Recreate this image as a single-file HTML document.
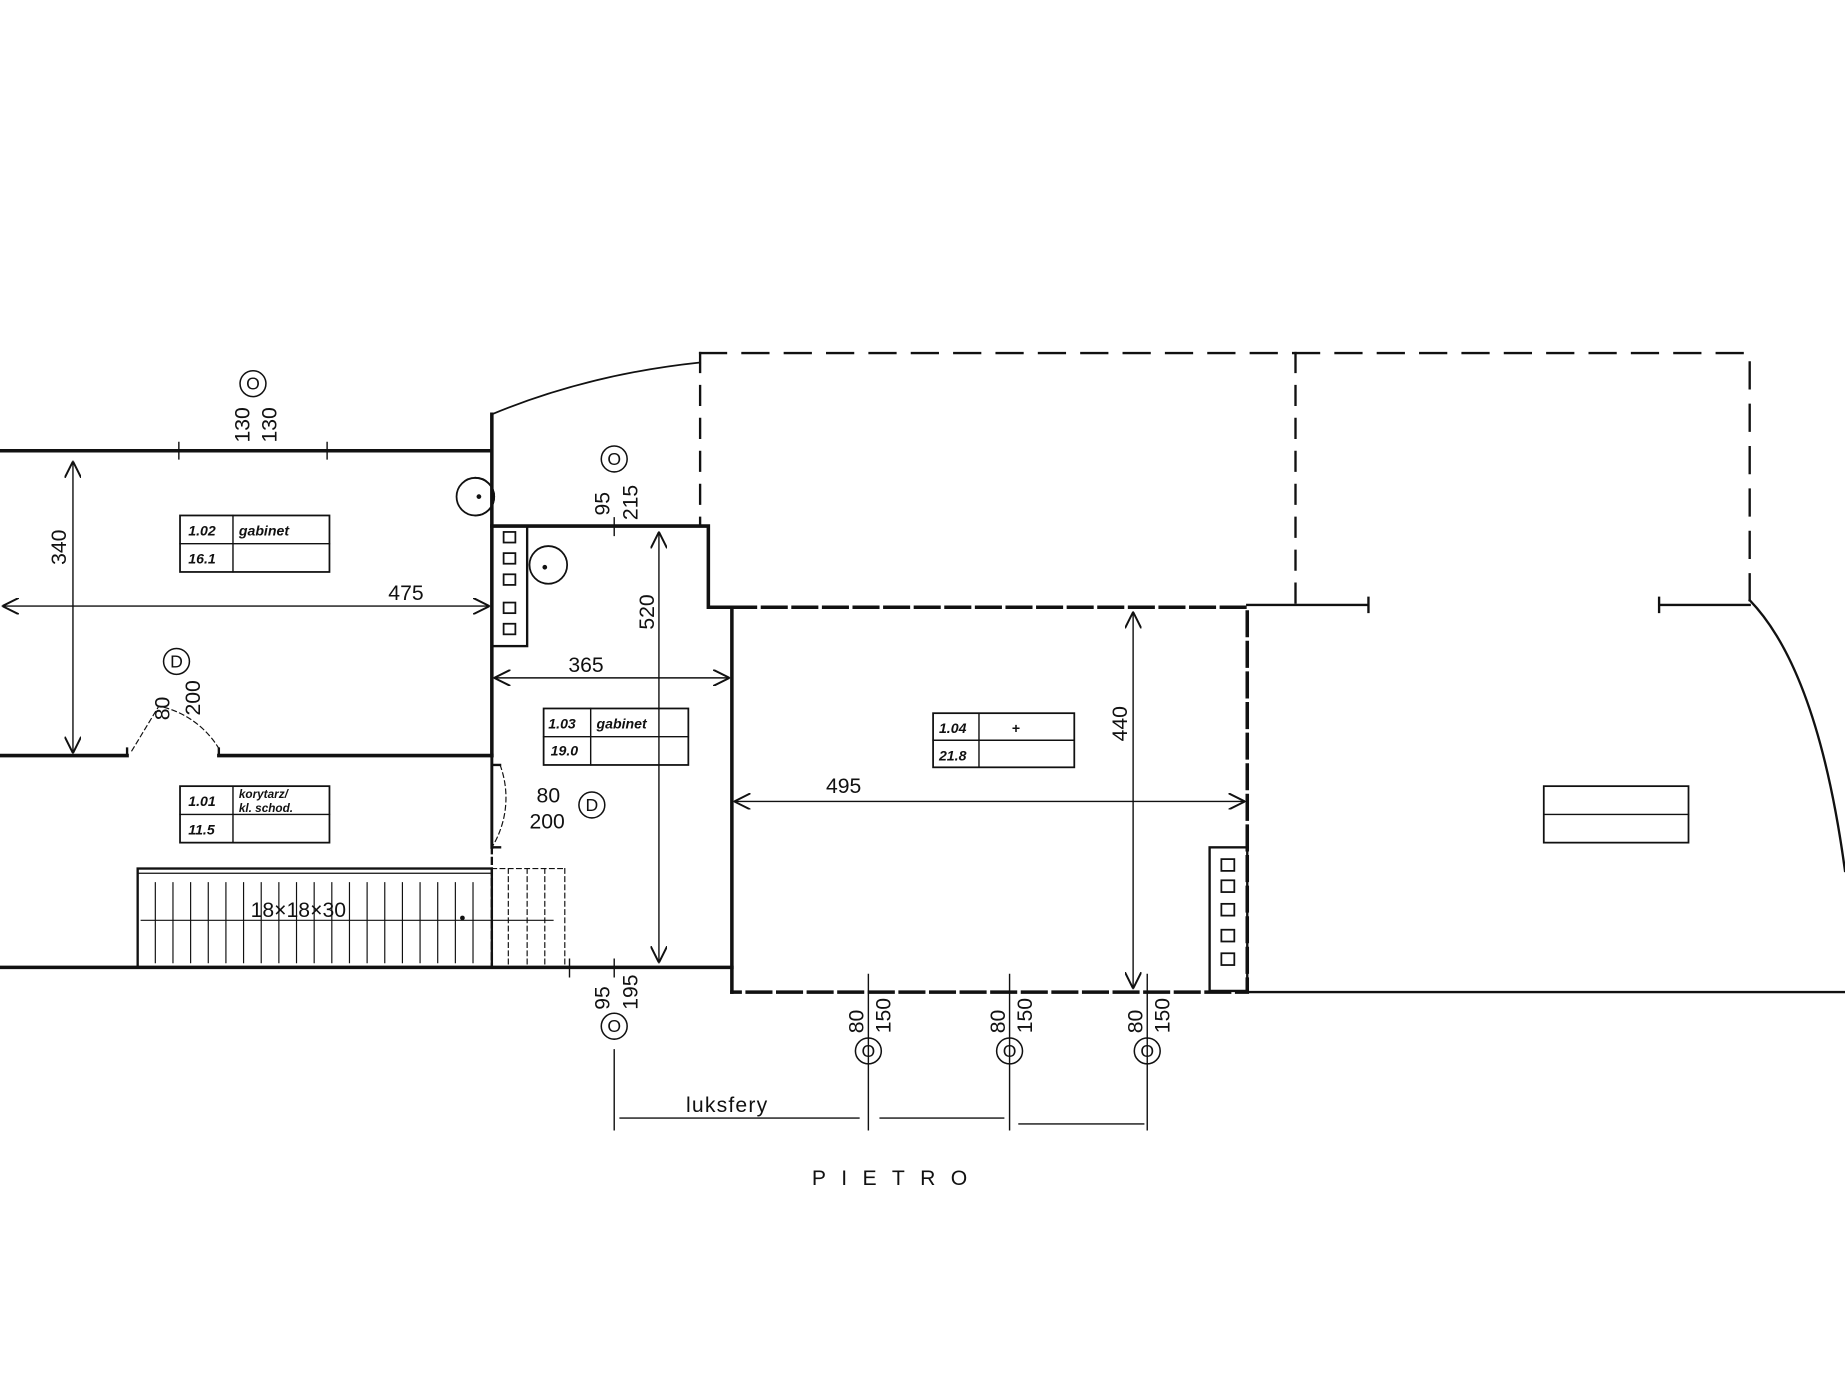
<!DOCTYPE html>
<html><head><meta charset="utf-8"><style>
html,body{margin:0;padding:0;background:#fff;}
svg{display:block;}
text{font-family:"Liberation Sans",sans-serif;fill:#111;}
</style></head><body>
<svg width="1845" height="1384" viewBox="0 0 1568 1176" preserveAspectRatio="none" xmlns="http://www.w3.org/2000/svg">
<defs>
<marker id="a" viewBox="0 0 10 10" refX="10" refY="5" markerWidth="14" markerHeight="14" orient="auto-start-reverse" markerUnits="userSpaceOnUse"><path d="M0,0 L10,5 L0,10" fill="none" stroke="#111" stroke-width="1.2"/></marker>
</defs>
<g stroke="#111" fill="none" stroke-linecap="square">
<path d="M0,383 H418 M418,352 V642" stroke-width="3"/>
<path d="M418,352 Q500,318 595,308" stroke-width="1.5"/>
<path d="M0,642 H108 M186,642 H418" stroke-width="3"/>
<path d="M108,636 V642 M186,636 V642" stroke-width="2"/>
<path d="M0,822 H622" stroke-width="3"/>
<path d="M418,447 H602 V516 H622 V843" stroke-width="3"/>
<path d="M418,642 V720" stroke-width="2.5"/>
<path d="M418,650 L425,650 M418,720 L425,720" stroke-width="2"/>
<path d="M418,720 V822" stroke-width="2" stroke-dasharray="5,4"/>
<path d="M622,516 H1060 V843 H622" stroke-width="3" stroke-dasharray="20,6"/>
<path d="M1060,843 H1568 M1060,514 H1163 M1163,508 V520 M1410,514 H1487 M1410,508 V520" stroke-width="2"/>
<path d="M1487,510 Q1545,570 1568,740" stroke-width="2"/>
<path d="M595,300 H1487 V510" stroke-width="2" stroke-dasharray="22,14"/>
<path d="M595,300 V447 M1101,300 V513" stroke-width="2" stroke-dasharray="16,12"/>
<rect x="117" y="738" width="301" height="84" stroke-width="2"/>
<path d="M117,742 H418" stroke-width="1"/>
<g stroke-width="1">
<path d="M132,750V818 M147,750V818 M162,750V818 M177,750V818 M192,750V818 M207,750V818 M222,750V818 M237,750V818 M252,750V818 M267,750V818 M282,750V818 M297,750V818 M312,750V818 M327,750V818 M342,750V818 M357,750V818 M372,750V818 M387,750V818 M402,750V818"/>
</g>
<path d="M418,738 H480 M432,738 V822 M448,738 V822 M463,738 V822 M480,738 V822" stroke-width="1" stroke-dasharray="4,3"/>
<path d="M120,782 H470" stroke-width="1"/>
<rect x="418" y="447" width="30" height="102" stroke-width="2"/>
<rect x="428" y="452" width="10" height="9" stroke-width="1.5"/><rect x="428" y="470" width="10" height="9" stroke-width="1.5"/>
<rect x="428" y="488" width="10" height="9" stroke-width="1.5"/><rect x="428" y="512" width="10" height="9" stroke-width="1.5"/><rect x="428" y="530" width="10" height="9" stroke-width="1.5"/>
<rect x="1028" y="720" width="32" height="122" stroke-width="2"/>
<rect x="1038" y="730" width="11" height="10" stroke-width="1.5"/><rect x="1038" y="748" width="11" height="10" stroke-width="1.5"/>
<rect x="1038" y="768" width="11" height="10" stroke-width="1.5"/><rect x="1038" y="790" width="11" height="10" stroke-width="1.5"/><rect x="1038" y="810" width="11" height="10" stroke-width="1.5"/>
<circle cx="404" cy="422" r="16" stroke-width="1.5"/><path d="M404,406 A16,16 0 0 1 404,438" stroke-width="1.5"/>
<circle cx="466" cy="480" r="16" stroke-width="1.5"/>
<path d="M112,638 L135,600 A78,78 0 0 1 186,636" stroke-width="1" stroke-dasharray="4,3"/>
<path d="M425,650 A80,80 0 0 1 418,720" stroke-width="1" stroke-dasharray="4,3"/>
<path d="M62,392 V640" stroke-width="1.2" marker-start="url(#a)" marker-end="url(#a)"/>
<path d="M2,515 H416" stroke-width="1.2" marker-start="url(#a)" marker-end="url(#a)"/>
<path d="M420,576 H620" stroke-width="1.2" marker-start="url(#a)" marker-end="url(#a)"/>
<path d="M560,452 V818" stroke-width="1.2" marker-start="url(#a)" marker-end="url(#a)"/>
<path d="M624,681 H1058" stroke-width="1.2" marker-start="url(#a)" marker-end="url(#a)"/>
<path d="M963,520 V840" stroke-width="1.2" marker-start="url(#a)" marker-end="url(#a)"/>
<path d="M152,376V390 M278,376V390 M522,440V455 M484,815V830 M522,815V830 M738,828V960 M858,828V960 M975,828V960 M522,892V960" stroke-width="1.2"/>
<path d="M527,950 H730 M748,950 H853 M866,955 H972" stroke-width="1.2"/>
<rect x="153" y="438" width="127" height="48" stroke-width="1.5"/><path d="M153,462H280 M198,438V486" stroke-width="1.2"/>
<rect x="153" y="668" width="127" height="48" stroke-width="1.5"/><path d="M153,692H280 M198,668V716" stroke-width="1.2"/>
<rect x="462" y="602" width="123" height="48" stroke-width="1.5"/><path d="M462,626H585 M502,602V650" stroke-width="1.2"/>
<rect x="793" y="606" width="120" height="46" stroke-width="1.5"/><path d="M793,629H913 M832,606V652" stroke-width="1.2"/>
<rect x="1312" y="668" width="123" height="48" stroke-width="1.5"/><path d="M1312,692H1435" stroke-width="1.2"/>
<circle cx="215" cy="326" r="11" stroke-width="1.3"/>
<circle cx="522" cy="390" r="11" stroke-width="1.3"/>
<circle cx="150" cy="562" r="11" stroke-width="1.3"/>
<circle cx="503" cy="684" r="11" stroke-width="1.3"/>
<circle cx="522" cy="872" r="11" stroke-width="1.3"/>
<circle cx="738" cy="893" r="11" stroke-width="1.3"/>
<circle cx="858" cy="893" r="11" stroke-width="1.3"/>
<circle cx="975" cy="893" r="11" stroke-width="1.3"/>
</g>
<g fill="#111"><circle cx="407" cy="422" r="2"/><circle cx="463" cy="482" r="2"/><circle cx="393" cy="780" r="2"/></g>
<g font-size="15" text-anchor="middle">
<text x="215" y="331">O</text><text x="522" y="395">O</text><text x="150" y="567">D</text><text x="503" y="689">D</text>
<text x="522" y="877">O</text><text x="738" y="898">O</text><text x="858" y="898">O</text><text x="975" y="898">O</text>
</g>
<g font-size="18">
<text transform="translate(212,376) rotate(-90)">130</text>
<text transform="translate(235,376) rotate(-90)">130</text>
<text transform="translate(518,438) rotate(-90)">95</text>
<text transform="translate(542,442) rotate(-90)">215</text>
<text transform="translate(144,612) rotate(-90)">80</text>
<text transform="translate(170,608) rotate(-90)">200</text>
<text transform="translate(56,480) rotate(-90)">340</text>
<text transform="translate(556,535) rotate(-90)">520</text>
<text transform="translate(958,630) rotate(-90)">440</text>
<text transform="translate(518,858) rotate(-90)">95</text>
<text transform="translate(542,858) rotate(-90)">195</text>
<text transform="translate(734,878) rotate(-90)">80</text>
<text transform="translate(757,878) rotate(-90)">150</text>
<text transform="translate(854,878) rotate(-90)">80</text>
<text transform="translate(877,878) rotate(-90)">150</text>
<text transform="translate(971,878) rotate(-90)">80</text>
<text transform="translate(994,878) rotate(-90)">150</text>
<text x="330" y="510">475</text>
<text x="483" y="571">365</text>
<text x="702" y="674">495</text>
<text x="456" y="682">80</text>
<text x="450" y="704">200</text>
<text x="213" y="779">18×18×30</text>
<text x="583" y="945" letter-spacing="1">luksfery</text>
<text x="690" y="1007" letter-spacing="13">PIETRO</text>
</g>
<g font-size="12" font-style="italic" font-weight="bold">
<text x="160" y="455">1.02</text><text x="203" y="455">gabinet</text><text x="160" y="479">16.1</text>
<text x="160" y="685">1.01</text><text x="203" y="678" font-size="10">korytarz/</text><text x="203" y="690" font-size="10">kl. schod.</text><text x="160" y="709">11.5</text>
<text x="466" y="619">1.03</text><text x="507" y="619">gabinet</text><text x="468" y="642">19.0</text>
<text x="798" y="623">1.04</text><text x="860" y="623" font-style="normal">+</text><text x="798" y="646">21.8</text>
</g>
</svg>
</body></html>
